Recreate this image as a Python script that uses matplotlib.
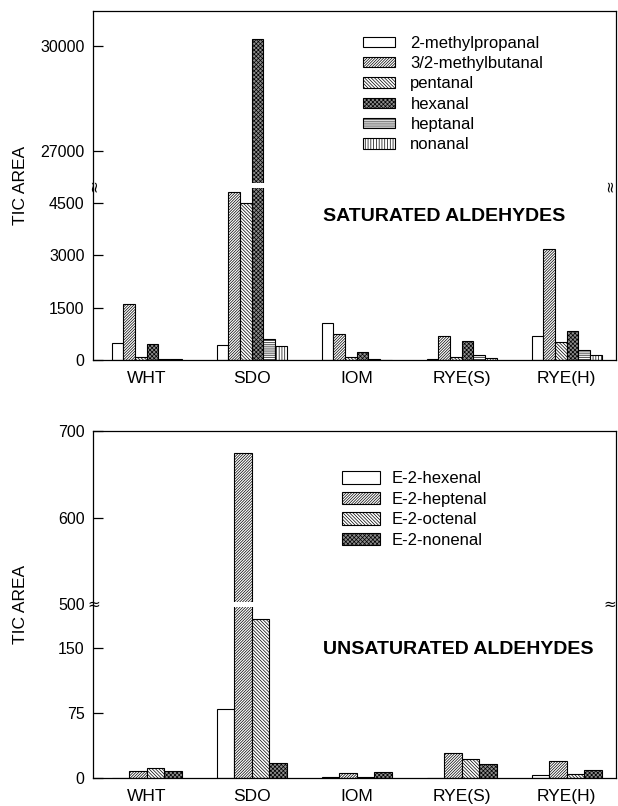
import numpy as np
import matplotlib
matplotlib.use("Agg")
import matplotlib.pyplot as plt

samples = ["WHT", "SDO", "IOM", "RYE(S)", "RYE(H)"]

# saturated aldehydes (top panel)
sat_names = ["2-methylpropanal", "3/2-methylbutanal", "pentanal",
             "hexanal", "heptanal", "nonanal"]
methylpropanal = [500, 420, 1050, 30, 700]
methylbutanal = [1600, 4800, 750, 700, 3170]
pentanal = [90, 4500, 80, 100, 520]
hexanal = [460, 30200, 230, 550, 830]
heptanal = [30, 610, 30, 135, 290]
nonanal = [20, 400, 15, 50, 135]
sat_ticks = [0, 1500, 3000, 4500, 27000, 30000]

# unsaturated aldehydes (bottom panel)
unsat_names = ["E-2-hexenal", "E-2-heptenal", "E-2-octenal", "E-2-nonenal"]
hexenal = [0, 80, 1, 0, 3]
heptenal = [8.5, 675, 5.5, 29, 19.5]
octenal = [11, 183, 1.5, 21.5, 4.5]
nonenal = [8.5, 17, 6.5, 16, 9]
unsat_ticks = [0, 75, 150, 500, 600, 700]

plt.rcParams["font.family"] = ["Liberation Sans", "DejaVu Sans"]
plt.rcParams["hatch.linewidth"] = 0.5
plt.rcParams["axes.linewidth"] = 0.9


def broken_scale(lo, hi):
    # cut the value range lo..hi out of the axis
    gap = hi - lo

    def fwd(v):
        v = np.asarray(v, dtype=float)
        return np.where(v <= lo, v, np.where(v >= hi, v - gap, lo))

    def inv(f):
        f = np.asarray(f, dtype=float)
        return np.where(f <= lo, f, f + gap)

    return fwd, inv


def draw_panel(ax, series, names, styles, lo, hi, ymax, ticks, title,
               vertical_mark, leg_anchor, handlelength, handleheight, textpad):
    x = np.arange(len(samples))
    w = (2 / 3) / len(series)
    handles = []
    for i, (vals, (fc, hatch)) in enumerate(zip(series, styles)):
        bars = ax.bar(x - 1 / 3 + i * w, vals, width=w, align="edge",
                      facecolor=fc, edgecolor="black", hatch=hatch,
                      linewidth=0.8, zorder=1)
        handles.append(bars)

    ax.set_yscale("function", functions=broken_scale(lo, hi))
    ax.set_ylim(0, ymax)
    ax.set_xlim(-0.51, len(samples) - 0.53)

    # white gap through the bars at the break
    fwd, _ = broken_scale(lo, hi)
    pad = 0.007 * fwd(ymax)
    ax.axhspan(lo - pad, hi + pad, facecolor="white", lw=0, zorder=2)

    ax.set_yticks(ticks)
    ax.set_yticklabels([str(t) for t in ticks])
    ax.set_xticks(x)
    ax.set_xticklabels(samples)
    ax.tick_params(axis="y", direction="in", length=7, width=0.9,
                   pad=6, labelsize=11.5)
    ax.tick_params(axis="x", length=0, pad=8, labelsize=12.5)
    ax.set_ylabel("TIC AREA", fontsize=12.5)
    ax.yaxis.set_label_coords(-0.125, 0.5)

    mark_rot = 90 if vertical_mark else 0
    for xm in (0.002, 0.988):
        ax.text(xm, lo, "\u2248", transform=ax.get_yaxis_transform(),
                rotation=mark_rot, ha="center", va="center", fontsize=11,
                family="DejaVu Sans", zorder=5)

    ax.text(0.44, title[1], title[0], transform=ax.transAxes,
            fontsize=14, fontweight="bold", ha="left", va="center")

    ax.legend(handles, names, loc="upper left", bbox_to_anchor=leg_anchor,
              frameon=False, borderpad=0, borderaxespad=0,
              handlelength=handlelength, handleheight=handleheight,
              handletextpad=textpad, labelspacing=0.32, fontsize=12)


fig = plt.figure(figsize=(6.18, 8.06), dpi=100)
ax_top = fig.add_axes([0.1505, 0.5533, 0.8463, 0.4331])
ax_bot = fig.add_axes([0.1505, 0.0347, 0.8463, 0.4306])

sat_styles = [("white", ""), ("white", "////////////"),
              ("white", "\\" * 10), ("#8c8c8c", "xxxxxxxx"),
              ("white", "--------"), ("white", "||||||")]
unsat_styles = [("white", ""), ("white", "////////////"),
                ("white", "\\" * 10), ("#8c8c8c", "xxxxxxxx")]

draw_panel(ax_top,
           [methylpropanal, methylbutanal, pentanal, hexanal, heptanal, nonanal],
           sat_names, sat_styles, 5000, 26000, 31000, sat_ticks,
           ("SATURATED ALDEHYDES", 0.41), True, (0.516, 0.929), 1.9, 0.6, 0.95)

draw_panel(ax_bot, [hexenal, heptenal, octenal, nonenal],
           unsat_names, unsat_styles, 200, 500, 700, unsat_ticks,
           ("UNSATURATED ALDEHYDES", 0.369), False, (0.476, 0.884), 2.3, 0.8, 0.7)

fig.savefig("out.png", dpi=100)
